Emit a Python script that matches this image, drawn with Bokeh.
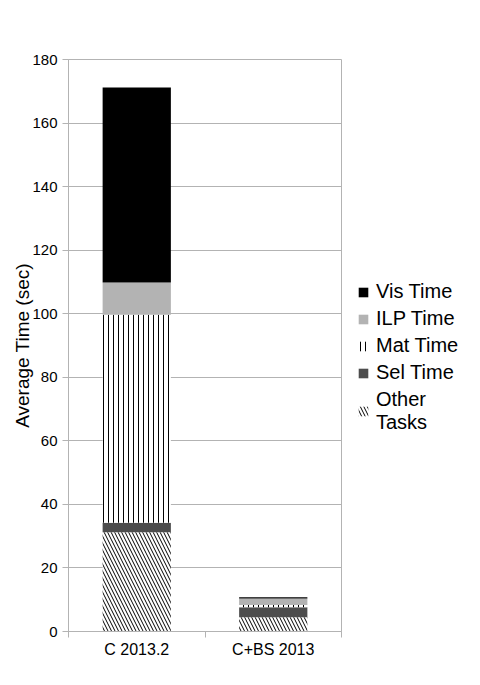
from bokeh.plotting import figure
from bokeh.models import ColumnDataSource, FixedTicker, Legend, LegendItem, Range1d
from bokeh.embed import file_html
from bokeh.resources import INLINE

categories = ["C 2013.2", "C+BS 2013"]
other_tasks = [31.2, 4.5]
sel_time = [3.0, 3.1]
mat_time = [65.5, 0.7]
ilp_time = [10.1, 2.1]
vis_time = [61.4, 0.4]
y_ticks = [0, 20, 40, 60, 80, 100, 120, 140, 160, 180]

stack_names = ["other", "sel", "mat", "ilp", "vis"]
labels = ["Other\nTasks", "Sel Time", "Mat Time", "ILP Time", "Vis Time"]
fills = ["white", "#4d4d4d", "white", "#b3b3b3", "#000000"]
hatches = ["left_diagonal_line", " ", "vertical_line", " ", " "]
hscales = [7, 4, 5, 4, 4]

xs = [i + 0.5 for i in range(len(categories))]
src = ColumnDataSource(dict(x=xs, other=other_tasks, sel=sel_time, mat=mat_time,
                            ilp=ilp_time, vis=vis_time))

p = figure(output_backend="svg", toolbar_location=None,
           x_range=Range1d(0, len(categories)), y_range=Range1d(0, 180),
           min_border_left=68, min_border_top=59, min_border_right=0, min_border_bottom=46,
           frame_width=273, frame_height=572)

renderers = p.vbar_stack(stack_names, x="x", width=0.5, source=src,
                         fill_color=fills, line_color=None,
                         hatch_pattern=hatches, hatch_color="black",
                         hatch_scale=hscales, hatch_weight=1)

items = [LegendItem(label=labels[i], renderers=[renderers[i]]) for i in range(4, -1, -1)]
legend = Legend(items=items, label_text_font="Liberation Sans", label_text_font_size="20px",
                label_text_color="black",
                glyph_width=12, glyph_height=12, spacing=4, padding=0, margin=16,
                border_line_color=None, background_fill_alpha=0, label_standoff=7,
                location=(16, 197), label_height=23)
p.add_layout(legend, "right")

p.xaxis.ticker = FixedTicker(ticks=xs, minor_ticks=[0, 1, 2])
p.xaxis.major_label_overrides = {x: c for x, c in zip(xs, categories)}
p.xaxis.major_tick_out = 0
p.xaxis.major_tick_in = 0
p.xaxis.minor_tick_out = 6
p.xaxis.minor_tick_in = 0
p.xaxis.major_label_standoff = 3
p.yaxis.ticker = FixedTicker(ticks=y_ticks)
p.yaxis.minor_tick_line_color = None
p.yaxis.major_tick_out = 6
p.yaxis.major_tick_in = 0
for ax in (p.xaxis[0], p.yaxis[0]):
    ax.axis_line_color = "#b3b3b3"
    ax.major_tick_line_color = "#b3b3b3"
    ax.minor_tick_line_color = "#b3b3b3"
    ax.major_label_text_font = "Liberation Sans"
    ax.major_label_text_font_size = "15px"
    ax.major_label_text_color = "black"
p.xaxis.major_label_text_font_size = "16px"
p.yaxis.axis_label = "Average Time (sec)"
p.yaxis.axis_label_text_font = "Liberation Sans"
p.yaxis.axis_label_text_font_size = "19px"
p.yaxis.axis_label_text_font_style = "normal"
p.yaxis.axis_label_text_color = "black"
p.yaxis.axis_label_standoff = -4
p.xgrid.grid_line_color = None
p.ygrid.grid_line_color = "#b3b3b3"
p.ygrid.ticker = FixedTicker(ticks=y_ticks)
p.outline_line_color = "#b3b3b3"
p.background_fill_color = "white"
p.border_fill_color = "white"

open("out.html", "w").write(file_html(p, INLINE))
